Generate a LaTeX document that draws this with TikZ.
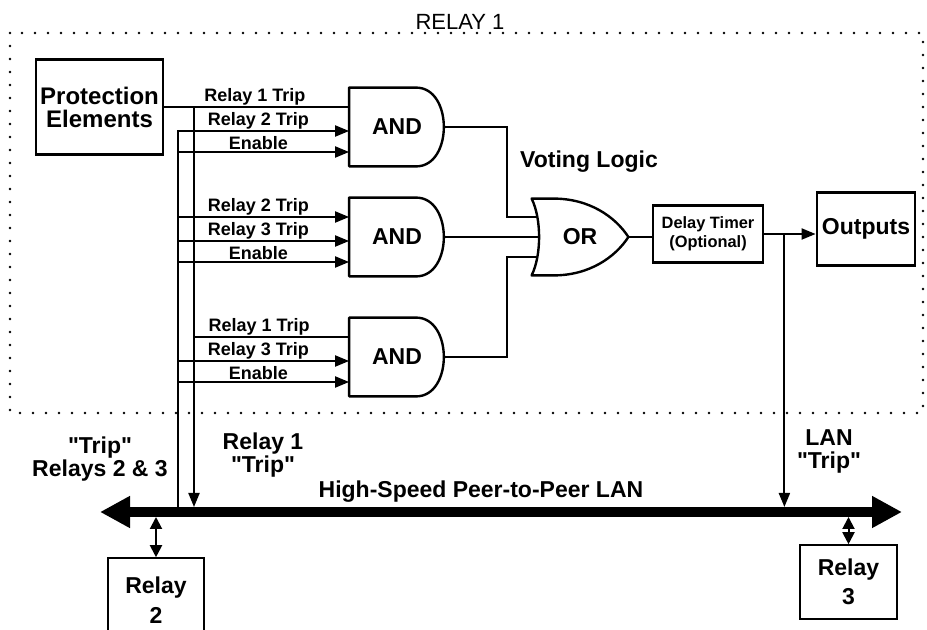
\documentclass[tikz,border=0pt]{standalone}
\usepackage{fontspec}
\setmainfont{Liberation Sans}[Ligatures=TeXOff]
\usetikzlibrary{arrows.meta,positioning,calc}

\begin{document}
\begin{tikzpicture}[x=0.5pt,y=-0.5pt,
    box/.style={draw,line width=1.4pt,align=center,inner sep=0pt,font=\bfseries\fontsize{11.5}{12}\selectfont},
    gate/.style={minimum width=47.5pt,minimum height=39pt,inner sep=0pt,font=\bfseries\fontsize{11.5}{12}\selectfont},
    gateline/.style={line width=1.2pt,line join=round},
    sig/.style={line width=1pt},
    tip/.style={-{Triangle[length=7pt,width=5.5pt]}},
    dbl/.style={line width=1pt,{Triangle[length=6pt,width=6pt]}-{Triangle[length=6pt,width=6pt]}},
    lbl/.style={above,pos=.47,inner sep=0.5pt,font=\bfseries\fontsize{9}{9}\selectfont},
    big/.style={align=center,font=\bfseries\fontsize{11.5}{11.5}\selectfont},
    frame/.style={line width=1.3pt,line cap=round,dash pattern=on 0pt off 6.5pt}]
    \useasboundingbox (0,0) rectangle (927,630);
    \clip (0,0) rectangle (927,630);

    % relay 1 boundary
    \draw[frame] (10,33) rectangle (923,413);
    \node[font=\fontsize{11}{11}\selectfont] (relay1) at (460,22) {RELAY 1};

    % blocks
    \node[box,minimum width=63.5pt,minimum height=47.5pt,font=\bfseries\fontsize{12}{11.5}\selectfont] (prot) at (99.5,107) {Protection\\Elements};
    \node[gate] (and1) at (397,127) {AND};
    \node[gate] (and2) at (397,237) {AND};
    \node[gate] (and3) at (397,357) {AND};
    \node[gate,minimum width=48pt,minimum height=38pt] (vote) at (580,237) {OR};
    \node[big] (voting) at (589,162) {Voting Logic};
    \node[box,minimum width=55pt,minimum height=28.5pt,font=\bfseries\fontsize{8.2}{9.5}\selectfont] (delay) at (708,234) {Delay Timer\\(Optional)};
    \node[box,minimum width=49pt,minimum height=36.5pt] (outputs) at (866,229) {Outputs};
    \node[box,line width=0.8pt,minimum width=48pt,minimum height=42pt,font=\bfseries\fontsize{11.5}{15}\selectfont] (relay2) at (156,600) {Relay\\2};
    \node[box,line width=0.8pt,minimum width=48.5pt,minimum height=37pt,font=\bfseries\fontsize{11.5}{14.5}\selectfont] (relay3) at (848.5,582) {Relay\\3};

    % gate outlines
    \foreach \g in {and1,and2,and3} {
      \draw[gateline] (\g.south west) -- (\g.north west) -- ($(\g.north west)+(67,0)$)
        .. controls ($(\g.north west)+(104,0)$) and ($(\g.south west)+(104,0)$) .. ($(\g.south west)+(67,0)$) -- cycle;
      \coordinate (\g-1) at ($(\g.west)+(0,-20)$);
      \coordinate (\g-2) at ($(\g.west)+(0,4)$);
      \coordinate (\g-3) at ($(\g.west)+(0,25)$);
    }
    \draw[gateline] (vote.north west) .. controls ($(vote.north west)+(10,20)$) and ($(vote.south west)+(10,-20)$) .. (vote.south west)
      -- ($(vote.south west)+(22,0)$) .. controls ($(vote.south west)+(58,0)$) and ($(vote.east)+(-13,20)$) .. (vote.east)
      .. controls ($(vote.east)+(-13,-20)$) and ($(vote.north west)+(58,0)$) .. ($(vote.north west)+(22,0)$) -- cycle;

    % LAN
    \coordinate (lanW) at (100,512);
    \coordinate (lanE) at (902,512);
    \coordinate (lantop) at (0,507);
    \coordinate (lanbot) at (0,517);
    \coordinate (busL) at (178,0);
    \coordinate (busR) at (194,0);
    \coordinate (vx) at (507,0);
    \draw[line width=5pt,{Triangle[length=15pt,width=15pt]}-{Triangle[length=15pt,width=15pt]}] (lanW) --
      node[big,above=2.5pt,inner sep=0pt,pos=.475] (lanlbl) {High-Speed Peer-to-Peer LAN} (lanE);

    % inputs
    \draw[sig] (prot.east) -- node[lbl,pos=.49] {Relay 1 Trip} (and1-1);
    \draw[sig,tip] (busR |- and1-1) -- (busR |- lantop);
    \draw[sig,tip] (busL |- lantop) -- (busL |- and1-2) -- node[lbl] {Relay 2 Trip} (and1-2);
    \draw[sig,tip] (busL |- and1-3) -- node[lbl] {Enable} (and1-3);
    \draw[sig,tip] (busL |- and2-1) -- node[lbl] {Relay 2 Trip} (and2-1);
    \draw[sig,tip] (busL |- and2-2) -- node[lbl] {Relay 3 Trip} (and2-2);
    \draw[sig,tip] (busL |- and2-3) -- node[lbl] {Enable} (and2-3);
    \draw[sig] (busR |- and3-1) -- node[lbl,pos=.42] {Relay 1 Trip} (and3-1);
    \draw[sig,tip] (busL |- and3-2) -- node[lbl] {Relay 3 Trip} (and3-2);
    \draw[sig,tip] (busL |- and3-3) -- node[lbl] {Enable} (and3-3);

    % voting
    \coordinate (vin1) at ($(vote.west)+(6,-20)$);
    \coordinate (vin2) at ($(vote.west)+(7,0)$);
    \coordinate (vin3) at ($(vote.west)+(6,20)$);
    \draw[sig] (and1.east) -| (vx |- vin1) -- (vin1);
    \draw[sig] (and2.east) -- (vin2);
    \draw[sig] (and3.east) -| (vx |- vin3) -- (vin3);
    \draw[sig] (vote.east) -- (vote.east -| delay.west);
    \draw[sig,tip] (delay.east) -- (delay.east -| outputs.west);
    \coordinate (tap) at ($(delay.east)+(20,0)$);
    \draw[sig,tip] (tap) -- (tap |- lantop);

    % relays on the LAN
    \draw[dbl] (relay2.north |- lanbot) -- (relay2.north);
    \draw[dbl] (relay3.north |- lanbot) -- (relay3.north);
    \node[big] (trip23) at (100,459) {"Trip"\\Relays 2 \& 3};
    \node[big] (trip1) at (263,455) {Relay 1\\"Trip"};
    \node[big] (lantrip) at (829,451) {LAN\\"Trip"};
  \end{tikzpicture}
\end{document}
